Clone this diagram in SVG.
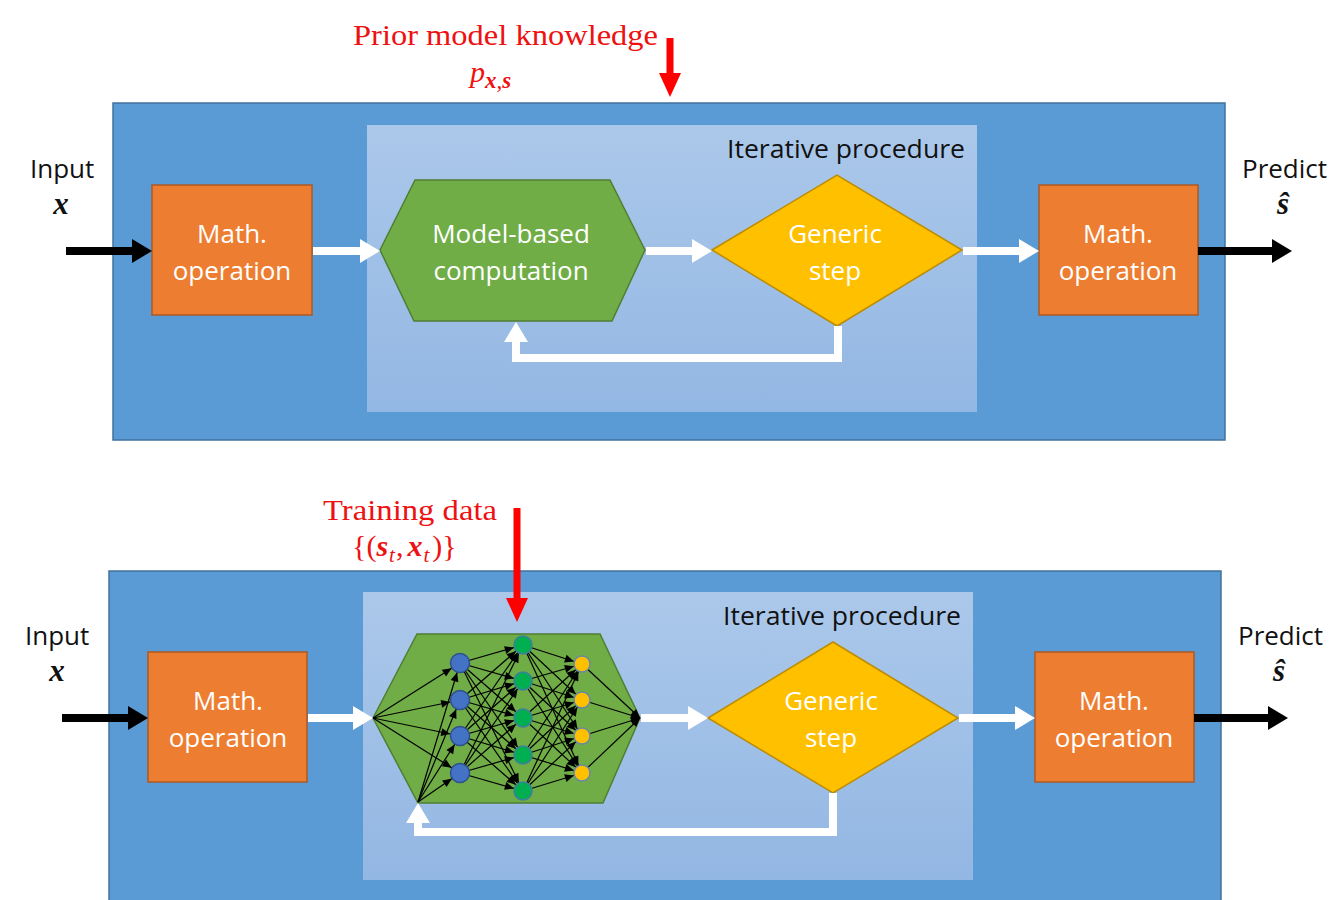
<svg xmlns="http://www.w3.org/2000/svg" width="1331" height="900" viewBox="0 0 1331 900">
<defs>
<style>
.outer{fill:#5B9BD5;stroke:#41719C;stroke-width:1.5}
.inner{fill:url(#gInner)}
.box{fill:#ED7D31;stroke:#AE5A21;stroke-width:1.5}
.hex{fill:#70AD47;stroke:#507E32;stroke-width:1.5}
.dia{fill:#FFC000;stroke:#BC8C00;stroke-width:1.5}
.wt{font-family:"Open Sans","Liberation Sans",sans-serif;font-size:26px;fill:#fff;text-anchor:middle}
.bt{font-family:"Open Sans","Liberation Sans",sans-serif;font-size:26px;fill:#111}
.rt{font-family:"Liberation Serif","DejaVu Serif",serif;font-size:30px;fill:#EE1111}
.mx{font-family:"Liberation Serif","DejaVu Serif",serif;font-size:31px;font-weight:bold;font-style:italic;fill:#111;text-anchor:middle}
.wa{fill:none;stroke:#fff;stroke-width:8;marker-end:url(#ahW)}
.ba{fill:none;stroke:#000;stroke-width:8;marker-end:url(#ahB)}
.ra{fill:none;stroke:#FF0000;stroke-width:7;marker-end:url(#ahR)}
.fb{fill:none;stroke:#fff;stroke-width:8;stroke-linejoin:miter;marker-end:url(#ahW)}
.e1{stroke:#000;stroke-width:1.2;marker-end:url(#mB)}
.e2{stroke:#000;stroke-width:1.2;marker-end:url(#mG)}
.e3{stroke:#000;stroke-width:1.2;marker-end:url(#mO)}
.e4{stroke:#000;stroke-width:1.2;marker-end:url(#mR)}
.nb{fill:#4472C4;stroke:#2F528F;stroke-width:1.5}
.ng{fill:#00B050;stroke:#3F7F9A;stroke-width:1.5}
.no{fill:#FFC000;stroke:#6A87A8;stroke-width:1.5}
</style>
<linearGradient id="gInner" x1="0" y1="0" x2="0" y2="1">
<stop offset="0" stop-color="#ABC8EA"/>
<stop offset="1" stop-color="#93B7E3"/>
</linearGradient>
<marker id="ahW" markerUnits="userSpaceOnUse" markerWidth="20" markerHeight="24" refX="6" refY="12" orient="auto" overflow="visible"><path d="M0,0 L20,12 L0,24 z" fill="#fff"/></marker>
<marker id="ahB" markerUnits="userSpaceOnUse" markerWidth="20" markerHeight="24" refX="6" refY="12" orient="auto" overflow="visible"><path d="M0,0 L20,12 L0,24 z" fill="#000"/></marker>
<marker id="ahR" markerUnits="userSpaceOnUse" markerWidth="24" markerHeight="22" refX="8" refY="11" orient="auto" overflow="visible"><path d="M0,0 L24,11 L0,22 z" fill="#FF0000"/></marker>
<marker id="mB" markerUnits="userSpaceOnUse" markerWidth="9" markerHeight="8" refX="19" refY="4" orient="auto" overflow="visible"><path d="M0,0 L9,4 L0,8 z" fill="#000"/></marker>
<marker id="mG" markerUnits="userSpaceOnUse" markerWidth="9" markerHeight="8" refX="18.5" refY="4" orient="auto" overflow="visible"><path d="M0,0 L9,4 L0,8 z" fill="#000"/></marker>
<marker id="mO" markerUnits="userSpaceOnUse" markerWidth="9" markerHeight="8" refX="17.5" refY="4" orient="auto" overflow="visible"><path d="M0,0 L9,4 L0,8 z" fill="#000"/></marker>
<marker id="mR" markerUnits="userSpaceOnUse" markerWidth="9" markerHeight="8" refX="9" refY="4" orient="auto" overflow="visible"><path d="M0,0 L9,4 L0,8 z" fill="#000"/></marker>
</defs>
<rect width="1331" height="900" fill="#fff"/>

<!-- Top panel -->
<g id="panel-top">
<rect class="outer" x="113" y="103" width="1112" height="337"/>
<rect class="inner" x="367" y="125" width="610" height="287"/>
<text class="bt" x="965" y="158" text-anchor="end" textLength="238" lengthAdjust="spacingAndGlyphs">Iterative procedure</text>
</g>
<g id="top-prior">
<text class="rt" x="353" y="45" textLength="305" lengthAdjust="spacingAndGlyphs">Prior model knowledge</text>
<text class="rt" x="470" y="82"><tspan font-style="italic">p</tspan><tspan font-size="23" font-weight="bold" font-style="italic" dy="6">x</tspan><tspan font-size="23" font-style="italic">,</tspan><tspan font-size="23" font-weight="bold" font-style="italic">s</tspan></text>
</g>
<g id="top-input">
<text class="bt" x="30" y="178">Input</text>
<text class="mx" x="61" y="214">x</text>
</g>
<g id="top-predict">
<text class="bt" x="1242" y="178">Predict</text>
<text class="mx" x="1283" y="214">ŝ</text>
</g>
<g id="top-math1">
<rect class="box" x="152" y="185" width="160" height="130"/>
<text class="wt" x="232" y="243">Math.</text>
<text class="wt" x="232" y="280">operation</text>
</g>
<g id="top-model">
<polygon class="hex" points="380,250 415,180 610,180 645,250 612,321 414,321"/>
<text class="wt" x="511" y="243">Model-based</text>
<text class="wt" x="511" y="280">computation</text>
</g>
<g id="top-generic">
<polygon class="dia" points="712,250 837,175 962,250 837,326"/>
<text class="wt" x="835" y="243">Generic</text>
<text class="wt" x="835" y="280">step</text>
</g>
<g id="top-math2">
<rect class="box" x="1039" y="185" width="159" height="130"/>
<text class="wt" x="1118" y="243">Math.</text>
<text class="wt" x="1118" y="280">operation</text>
</g>

<!-- Bottom panel -->
<g id="panel-bottom">
<rect class="outer" x="109" y="571" width="1112" height="345"/>
<rect class="inner" x="363" y="592" width="610" height="288"/>
<text class="bt" x="961" y="625" text-anchor="end" textLength="238" lengthAdjust="spacingAndGlyphs">Iterative procedure</text>
</g>
<g id="bottom-training">
<text class="rt" x="323" y="520" textLength="174" lengthAdjust="spacingAndGlyphs">Training data</text>
<text class="rt" x="352" y="556">{(<tspan font-weight="bold" font-style="italic">s</tspan><tspan font-size="21" font-style="italic" dy="6" dx="1">t</tspan><tspan dy="-6" dx="1">,</tspan><tspan font-weight="bold" font-style="italic" dx="4">x</tspan><tspan font-size="21" font-style="italic" dy="6" dx="1">t</tspan><tspan dy="-6" dx="3">)}</tspan></text>
</g>
<g id="bottom-input">
<text class="bt" x="25" y="645">Input</text>
<text class="mx" x="57" y="681">x</text>
</g>
<g id="bottom-predict">
<text class="bt" x="1238" y="645">Predict</text>
<text class="mx" x="1279" y="681">ŝ</text>
</g>
<g id="bottom-math1">
<rect class="box" x="148" y="652" width="159" height="130"/>
<text class="wt" x="228" y="710">Math.</text>
<text class="wt" x="228" y="747">operation</text>
</g>
<g id="bottom-nn">
<polygon class="hex" points="373,718 417,634 600,634 640,718 603,803 418,803"/>
<g id="nn-edges">
<line class="e1" x1="373" y1="718" x2="460" y2="663"/>
<line class="e1" x1="373" y1="718" x2="460" y2="700"/>
<line class="e1" x1="373" y1="718" x2="460" y2="736"/>
<line class="e1" x1="373" y1="718" x2="460" y2="773"/>
<line class="e1" x1="418" y1="802" x2="460" y2="663"/>
<line class="e1" x1="418" y1="802" x2="460" y2="700"/>
<line class="e1" x1="418" y1="802" x2="460" y2="736"/>
<line class="e1" x1="418" y1="802" x2="460" y2="773"/>
<line class="e2" x1="460" y1="663" x2="523" y2="645"/>
<line class="e2" x1="460" y1="663" x2="523" y2="681"/>
<line class="e2" x1="460" y1="663" x2="523" y2="718"/>
<line class="e2" x1="460" y1="663" x2="523" y2="755"/>
<line class="e2" x1="460" y1="663" x2="523" y2="791"/>
<line class="e2" x1="460" y1="700" x2="523" y2="645"/>
<line class="e2" x1="460" y1="700" x2="523" y2="681"/>
<line class="e2" x1="460" y1="700" x2="523" y2="718"/>
<line class="e2" x1="460" y1="700" x2="523" y2="755"/>
<line class="e2" x1="460" y1="700" x2="523" y2="791"/>
<line class="e2" x1="460" y1="736" x2="523" y2="645"/>
<line class="e2" x1="460" y1="736" x2="523" y2="681"/>
<line class="e2" x1="460" y1="736" x2="523" y2="718"/>
<line class="e2" x1="460" y1="736" x2="523" y2="755"/>
<line class="e2" x1="460" y1="736" x2="523" y2="791"/>
<line class="e2" x1="460" y1="773" x2="523" y2="645"/>
<line class="e2" x1="460" y1="773" x2="523" y2="681"/>
<line class="e2" x1="460" y1="773" x2="523" y2="718"/>
<line class="e2" x1="460" y1="773" x2="523" y2="755"/>
<line class="e2" x1="460" y1="773" x2="523" y2="791"/>
<line class="e3" x1="523" y1="645" x2="582" y2="664"/>
<line class="e3" x1="523" y1="645" x2="582" y2="700"/>
<line class="e3" x1="523" y1="645" x2="582" y2="736"/>
<line class="e3" x1="523" y1="645" x2="582" y2="773"/>
<line class="e3" x1="523" y1="681" x2="582" y2="664"/>
<line class="e3" x1="523" y1="681" x2="582" y2="700"/>
<line class="e3" x1="523" y1="681" x2="582" y2="736"/>
<line class="e3" x1="523" y1="681" x2="582" y2="773"/>
<line class="e3" x1="523" y1="718" x2="582" y2="664"/>
<line class="e3" x1="523" y1="718" x2="582" y2="700"/>
<line class="e3" x1="523" y1="718" x2="582" y2="736"/>
<line class="e3" x1="523" y1="718" x2="582" y2="773"/>
<line class="e3" x1="523" y1="755" x2="582" y2="664"/>
<line class="e3" x1="523" y1="755" x2="582" y2="700"/>
<line class="e3" x1="523" y1="755" x2="582" y2="736"/>
<line class="e3" x1="523" y1="755" x2="582" y2="773"/>
<line class="e3" x1="523" y1="791" x2="582" y2="664"/>
<line class="e3" x1="523" y1="791" x2="582" y2="700"/>
<line class="e3" x1="523" y1="791" x2="582" y2="736"/>
<line class="e3" x1="523" y1="791" x2="582" y2="773"/>
<line class="e4" x1="582" y1="664" x2="640" y2="718"/>
<line class="e4" x1="582" y1="700" x2="640" y2="718"/>
<line class="e4" x1="582" y1="736" x2="640" y2="718"/>
<line class="e4" x1="582" y1="773" x2="640" y2="718"/>
</g>
<g id="nn-nodes">
<circle class="nb" cx="460" cy="663" r="9.5"/>
<circle class="nb" cx="460" cy="700" r="9.5"/>
<circle class="nb" cx="460" cy="736" r="9.5"/>
<circle class="nb" cx="460" cy="773" r="9.5"/>
<circle class="ng" cx="523" cy="645" r="9"/>
<circle class="ng" cx="523" cy="681" r="9"/>
<circle class="ng" cx="523" cy="718" r="9"/>
<circle class="ng" cx="523" cy="755" r="9"/>
<circle class="ng" cx="523" cy="791" r="9"/>
<circle class="no" cx="582" cy="664" r="8"/>
<circle class="no" cx="582" cy="700" r="8"/>
<circle class="no" cx="582" cy="736" r="8"/>
<circle class="no" cx="582" cy="773" r="8"/>
</g>
</g>
<g id="bottom-generic">
<polygon class="dia" points="708,718 833,642 958,718 833,793"/>
<text class="wt" x="831" y="710">Generic</text>
<text class="wt" x="831" y="747">step</text>
</g>
<g id="bottom-math2">
<rect class="box" x="1035" y="652" width="159" height="130"/>
<text class="wt" x="1114" y="710">Math.</text>
<text class="wt" x="1114" y="747">operation</text>
</g>

<!-- Connectors -->
<g id="connectors">
<line class="ra" x1="670" y1="38" x2="670" y2="81"/>
<line class="ba" x1="66" y1="251" x2="138" y2="251"/>
<line class="wa" x1="313" y1="251" x2="366" y2="251"/>
<line class="wa" x1="646" y1="251" x2="698" y2="251"/>
<line class="wa" x1="963" y1="251" x2="1025" y2="251"/>
<line class="ba" x1="1198" y1="251" x2="1278" y2="251"/>
<polyline class="fb" points="838,326 838,358 516,358 516,336"/>

<line class="ra" x1="517" y1="508" x2="517" y2="606"/>
<line class="ba" x1="62" y1="718" x2="134" y2="718"/>
<line class="wa" x1="308" y1="718" x2="359" y2="718"/>
<line class="wa" x1="641" y1="718" x2="694" y2="718"/>
<line class="wa" x1="959" y1="718" x2="1021" y2="718"/>
<line class="ba" x1="1194" y1="718" x2="1274" y2="718"/>
<polyline class="fb" points="833,793 833,832 418,832 418,817"/>
</g>
</svg>
